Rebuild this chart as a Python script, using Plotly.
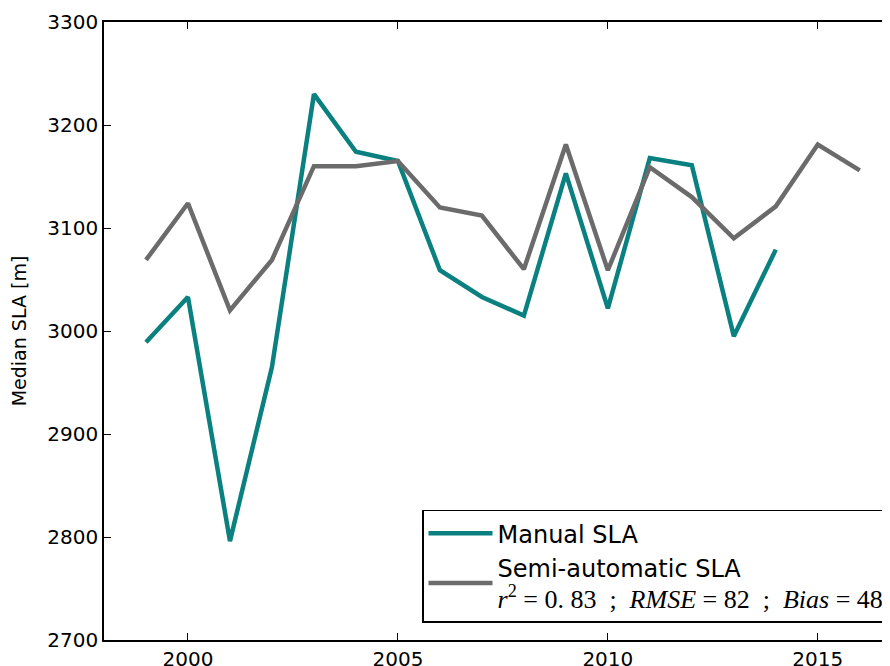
import plotly.graph_objects as go

years_manual = list(range(1999, 2015))
manual_sla = [2989, 3033, 2796, 2965, 3230, 3174, 3165, 3059, 3033, 3015, 3153, 3022, 3168, 3161, 2995, 3079]
years_semi = list(range(1999, 2017))
semi_sla = [3069, 3124, 3020, 3069, 3160, 3160, 3165, 3120, 3112, 3060, 3181, 3059, 3159, 3130, 3090, 3121, 3181, 3156]

x_ticks = [2000, 2005, 2010, 2015]
y_ticks = [2700, 2800, 2900, 3000, 3100, 3200, 3300]

stats_line = ("<span style='font-family:\"Liberation Serif\",serif;font-size:26px'>"
              "<i>r</i><sup>2</sup> = 0. 83&nbsp; ;&nbsp; <i>RMSE</i> = 82&nbsp; ;&nbsp; "
              "<i>Bias</i> = 48</span>")

fig = go.Figure()
fig.add_trace(go.Scatter(x=years_manual, y=manual_sla, mode="lines", name="Manual SLA",
                         line=dict(color="#0b8080", width=4.5)))
fig.add_trace(go.Scatter(x=years_semi, y=semi_sla, mode="lines",
                         name="Semi-automatic SLA<br>" + stats_line,
                         line=dict(color="#6b6b6b", width=4.5)))

axis_common = dict(showgrid=False, zeroline=False, showline=True, linecolor="black", linewidth=1.5,
                   ticks="inside", ticklen=7, tickwidth=1, tickcolor="black", automargin=False,
                   tickfont=dict(family="DejaVu Sans", size=20, color="black"))

fig.update_layout(
    width=882, height=658,
    margin=dict(l=96, r=0, t=14, b=26),
    paper_bgcolor="white", plot_bgcolor="white",
    font=dict(family="DejaVu Sans", color="black"),
    xaxis=dict(range=[1998, 2016.72], tickvals=x_ticks, mirror="ticks", **axis_common),
    yaxis=dict(range=[2700, 3300], tickvals=y_ticks, mirror=False, ticklabelstandoff=0,
               title=dict(text="Median SLA [m]", font=dict(size=19, family="DejaVu Sans"), standoff=18),
               **axis_common),
    legend=dict(x=1.0, xanchor="right", y=0.028, yanchor="bottom",
                bgcolor="white", bordercolor="black", borderwidth=1.5,
                font=dict(family="DejaVu Sans", size=24, color="black"),
                tracegroupgap=0, itemwidth=64, entrywidth=465, entrywidthmode="pixels"),
    showlegend=True,
)

fig.write_html("out.html")
